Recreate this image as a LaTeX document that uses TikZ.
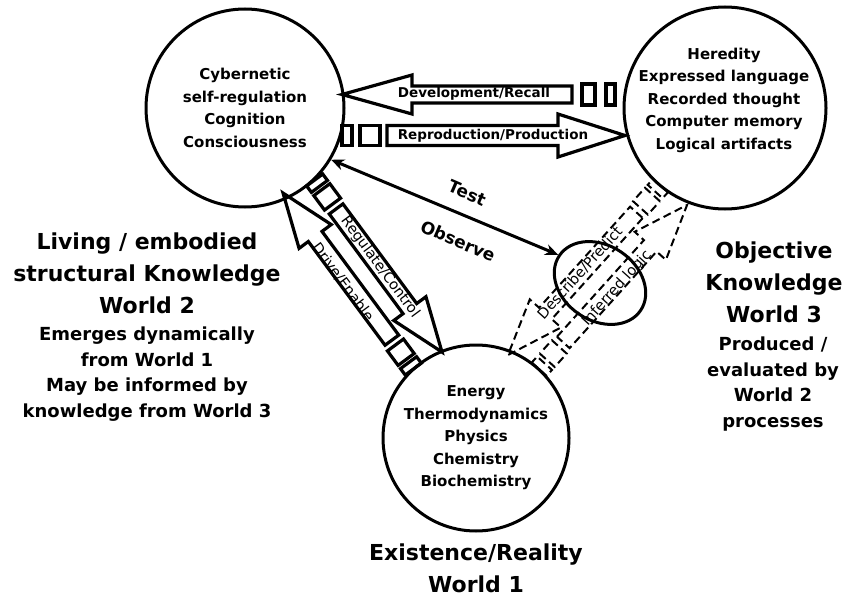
\documentclass[tikz,border=0pt]{standalone}
\usepackage{fontspec}
\setmainfont{DejaVu Sans}
\usetikzlibrary{shapes.geometric,arrows.meta}
\newcommand\blkarrow[6]{%
  \draw[#6] (#1,-#4) -- ({#2-#3},-#4) -- ({#2-#3},-#5) -- (#2,0) -- ({#2-#3},#5) -- ({#2-#3},#4) -- (#1,#4) -- cycle;}
\newcommand\tbox[4]{\draw[#4] (#1,-#3) rectangle (#2,#3);}
\tikzset{
  world/.style={circle, draw, line width=3pt, inner sep=0pt},
  blk/.style={line width=3.2pt, line join=miter},
  dsh/.style={line width=2pt, line join=miter, dash pattern=on 8pt off 4.5pt},
  tl/.style={line width=3pt, >={Stealth[length=13pt,width=11pt]}, <->},
  ctext/.style={font=\bfseries\fontsize{15}{22.5}\selectfont, align=center, inner sep=0pt},
  bigtext/.style={font=\bfseries\fontsize{22}{32}\selectfont, align=center, inner sep=0pt},
  midtext/.style={font=\bfseries\fontsize{18}{25.5}\selectfont, align=center, inner sep=0pt},
  arrtext/.style={font=\bfseries\fontsize{13.5}{15}\selectfont, inner sep=0pt},
  diagtext/.style={font=\fontsize{14.5}{16}\selectfont, inner sep=0pt},
  obstext/.style={font=\bfseries\fontsize{17}{19}\selectfont, inner sep=0pt},
}
\begin{document}
\begin{tikzpicture}[x=1pt,y=-1pt]
\useasboundingbox (0,0) rectangle (843,596);

% worlds
\node[world, minimum size=198pt] (w2) at (245,108) {};
\node[world, minimum size=202pt] (w3) at (725,108) {};
\node[world, minimum size=186pt] (w1) at (476,438) {};

% Development/Recall (leftward)
\begin{scope}[shift={(615,94.5)}, rotate=180]
  \tbox{0}{9}{10.5}{blk}
  \tbox{20}{33}{10.5}{blk}
  \blkarrow{43}{273}{70}{8.5}{19.5}{blk}
\end{scope}
% Reproduction/Production (rightward)
\begin{scope}[shift={(342,135.5)}]
  \tbox{0}{10}{10}{blk}
  \tbox{18}{38}{10}{blk}
  \blkarrow{45}{283}{67}{10}{21.5}{blk}
\end{scope}
% Regulate/Control (W2 -> W1)
\begin{scope}[shift={(314.7,180)}, rotate=-53.5]
  \tbox{0}{8}{10}{blk}
  \tbox{12}{30}{10}{blk}
  \blkarrow{36}{214}{54}{8.5}{20}{blk}
\end{scope}
% Drive/Enable (W1 -> W2)
\begin{scope}[shift={(413.3,369.1)}, rotate=126.5]
  \tbox{0}{8}{10}{blk}
  \tbox{12}{30}{10}{blk}
  \blkarrow{36}{219}{54}{8.5}{20}{blk}
\end{scope}
% Describe/Predict (W3 -> W1), dashed
\begin{scope}[shift={(660.5,185.6)}, rotate=-132]
  \tbox{0}{8}{10}{dsh}
  \tbox{12}{30}{10}{dsh}
  \blkarrow{36}{228}{56}{8.5}{21}{dsh}
\end{scope}
% Inferred logic (W1 -> W3), dashed
\begin{scope}[shift={(539.2,369.2)}, rotate=48]
  \tbox{0}{8}{10}{dsh}
  \tbox{12}{30}{10}{dsh}
  \blkarrow{36}{221}{55}{8.5}{21}{dsh}
\end{scope}

% observation ellipse and test line
\node[ellipse, draw, line width=3pt, minimum width=98pt, minimum height=75pt, inner sep=0pt, rotate=-34] (obs) at (600,283) {};
\draw[tl] (w2.-31) -- (obs.west);

% arrow labels
\node[arrtext] (ldev) at (474,94) {Development/Recall};
\node[arrtext] (lrep) at (493,136) {Reproduction/Production};
\node[diagtext, rotate=-53.5] (lreg) at (380,267) {Regulate/Control};
\node[diagtext, rotate=-53.5] (ldrv) at (343,282) {Drive/Enable};
\node[diagtext, rotate=48] (ldes) at (580,273) {Describe/Predict};
\node[diagtext, rotate=48] (linf) at (617,288) {Inferred logic};
\node[obstext, rotate=-23.4] (ltest) at (467,193) {Test};
\node[obstext, rotate=-23.4] (lobs) at (458,241) {Observe};

% circle texts
\node[ctext] (t2) at (245,108) {Cybernetic\\self-regulation\\Cognition\\Consciousness};
\node[ctext] (t3) at (724,100) {Heredity\\Expressed language\\Recorded thought\\Computer memory\\Logical artifacts};
\node[ctext] (t1) at (476,438) {Energy\\Thermodynamics\\Physics\\Chemistry\\Biochemistry};

% world captions
\node[bigtext] (c2a) at (147,273) {Living / embodied\\structural Knowledge\\World 2};
\node[midtext] (c2b) at (147,374) {Emerges dynamically\\from World 1\\May be informed by\\knowledge from World 3};
\node[bigtext] (c3a) at (774,282) {Objective\\Knowledge\\World 3};
\node[midtext] (c3b) at (773,384) {Produced /\\evaluated by\\World 2\\processes};
\node[bigtext] (c1a) at (476,568) {Existence/Reality\\World 1};
\end{tikzpicture}
\end{document}
